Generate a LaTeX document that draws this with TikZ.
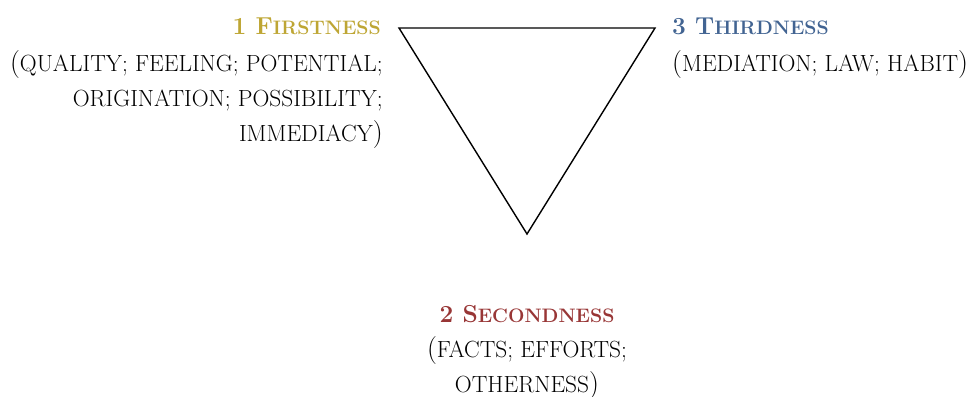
\documentclass[tikz,border=0pt]{standalone}
\definecolor{cfirst}{RGB}{190,166,52}
\definecolor{cthird}{RGB}{66,100,146}
\definecolor{csecond}{RGB}{152,54,54}
\newcommand{\ttl}[3]{{\bfseries\fontsize{24.5}{30}\selectfont #1 #2\fontsize{19.5}{30}\selectfont #3}}
\newcommand{\bsc}[1]{{\fontsize{23.4}{35}\selectfont #1}}
\tikzset{
  title/.style={inner sep=0pt},
  body/.style={inner sep=0pt, font=\fontsize{28}{35}\selectfont},
  tri/.style={draw=black, line width=1.4pt, line join=miter}
}
\begin{document}
\begin{tikzpicture}[x=1pt,y=-1pt]
\useasboundingbox (0,0) rectangle (979,396);
\coordinate (A) at (399,28);
\coordinate (B) at (655,28);
\coordinate (C) at (527,234);
\draw[tri] (A) -- (B) -- (C) -- cycle;
\node[title, text=cfirst, anchor=base east] (t1) at (381,35) {\ttl{1}{F}{IRSTNESS}};
\node[body, align=right, anchor=north east] (b1) at (383,50) {(\bsc{QUALITY; FEELING; POTENTIAL;}\\ \bsc{ORIGINATION; POSSIBILITY;}\\ \bsc{IMMEDIACY})};
\node[title, text=cthird, anchor=base west] (t3) at (672,35) {\ttl{3}{T}{HIRDNESS}};
\node[body, align=left, anchor=north west] (b3) at (672,50) {(\bsc{MEDIATION; LAW; HABIT})};
\node[title, text=csecond, anchor=base] (t2) at (527,322) {\ttl{2}{S}{ECONDNESS}};
\node[body, align=center, anchor=north] (b2) at (527,336) {(\bsc{FACTS; EFFORTS;}\\ \bsc{OTHERNESS})};
\end{tikzpicture}
\end{document}
